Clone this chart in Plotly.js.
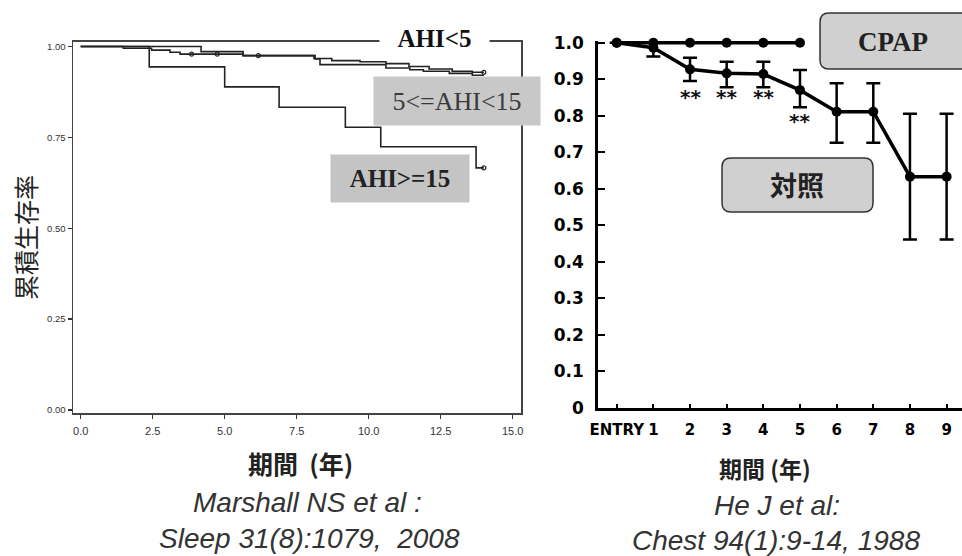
<!DOCTYPE html>
<html><head><meta charset="utf-8">
<script src="https://cdn.plot.ly/plotly-3.0.1.min.js"></script>
<style>html,body{margin:0;padding:0;background:#fff;}#chart{width:962px;height:556px;}</style>
</head><body><div id="chart"></div>
<script>
// ---------- Left chart: Kaplan-Meier (Marshall NS et al.) ----------
const ahiLow_t   = [0, 1.48, 2.46, 3.10, 3.45, 5.64, 8.10, 8.72, 9.70, 10.60, 11.40, 12.10, 12.90, 13.60, 14.00];
const ahiLow_s   = [1.0, 0.995, 0.990, 0.984, 0.979, 0.975, 0.967, 0.961, 0.958, 0.953, 0.945, 0.938, 0.932, 0.929, 0.929];
const ahiMid_t   = [0, 4.18, 5.64, 8.14, 8.31, 10.60, 11.43, 11.90, 12.80, 13.60, 14.00];
const ahiMid_s   = [1.0, 0.986, 0.975, 0.966, 0.950, 0.941, 0.936, 0.932, 0.926, 0.921, 0.921];
const ahiHigh_t  = [0, 2.38, 5.00, 6.89, 9.19, 10.42, 13.73, 14.00];
const ahiHigh_s  = [1.0, 0.944, 0.889, 0.833, 0.778, 0.724, 0.666, 0.666];
const censLow_t  = [3.85, 4.74, 6.17, 14.0];
const censLow_s  = [0.979, 0.979, 0.975, 0.929];
const censHigh_t = [14.0];
const censHigh_s = [0.666];
const leftYTicks = [0, 0.25, 0.5, 0.75, 1.0];
const leftXTicks = [0, 2.5, 5, 7.5, 10, 12.5, 15];

// ---------- Right chart: CPAP vs control (He J et al.) ----------
const years      = [0, 1, 2, 3, 4, 5, 6, 7, 8, 9];
const yearLabels = ['ENTRY', '1', '2', '3', '4', '5', '6', '7', '8', '9'];
const cpapYears  = [0, 1, 2, 3, 4, 5];
const cpapSurv   = [1.0, 1.0, 1.0, 1.0, 1.0, 1.0];
const ctrlSurv   = [1.0, 0.986, 0.927, 0.916, 0.914, 0.870, 0.811, 0.811, 0.633, 0.633];
const ctrlUpper  = [1.0, 1.0, 0.959, 0.948, 0.948, 0.925, 0.889, 0.889, 0.805, 0.805];
const ctrlLower  = [1.0, 0.962, 0.895, 0.878, 0.878, 0.823, 0.726, 0.726, 0.461, 0.461];
const sigYears   = [2, 3, 4, 5];
const sigLabelY  = [0.852, 0.852, 0.852, 0.786];
const rightYTicks = [0, 0.1, 0.2, 0.3, 0.4, 0.5, 0.6, 0.7, 0.8, 0.9, 1.0];
const rightYText  = ['0', '0.1', '0.2', '0.3', '0.4', '0.5', '0.6', '0.7', '0.8', '0.9', '1.0'];

const W = 962, H = 556;
const PX = p => p / W;
const PY = p => 1 - p / H;

function roundRect(x0, y0, x1, y1, r) {
  const f = (x, y) => PX(x).toFixed(5) + ',' + PY(y).toFixed(5);
  return 'M' + f(x0 + r, y0) + ' L' + f(x1 - r, y0) + ' Q' + f(x1, y0) + ' ' + f(x1, y0 + r) +
         ' L' + f(x1, y1 - r) + ' Q' + f(x1, y1) + ' ' + f(x1 - r, y1) +
         ' L' + f(x0 + r, y1) + ' Q' + f(x0, y1) + ' ' + f(x0, y1 - r) +
         ' L' + f(x0, y0 + r) + ' Q' + f(x0, y0) + ' ' + f(x0 + r, y0) + ' Z';
}

const kmLine = {color: '#222', width: 1.6, shape: 'hv'};
const traces = [
  {x: ahiLow_t, y: ahiLow_s, xaxis: 'x', yaxis: 'y', mode: 'lines', line: kmLine, cliponaxis: false},
  {x: ahiMid_t, y: ahiMid_s, xaxis: 'x', yaxis: 'y', mode: 'lines', line: kmLine, cliponaxis: false},
  {x: ahiHigh_t, y: ahiHigh_s, xaxis: 'x', yaxis: 'y', mode: 'lines', line: kmLine, cliponaxis: false},
  {x: censLow_t, y: censLow_s, xaxis: 'x', yaxis: 'y', mode: 'markers',
   marker: {symbol: 'circle-open', size: 4, color: '#222', line: {width: 1.2}}, cliponaxis: false},
  {x: censHigh_t, y: censHigh_s, xaxis: 'x', yaxis: 'y', mode: 'markers',
   marker: {symbol: 'circle-open', size: 4, color: '#222', line: {width: 1.2}}, cliponaxis: false},
  {x: years, y: ctrlSurv, xaxis: 'x2', yaxis: 'y2', mode: 'lines+markers',
   line: {color: '#000', width: 3.5}, marker: {size: 10, color: '#000'},
   error_y: {type: 'data', symmetric: false,
     array: ctrlUpper.map((u, i) => u - ctrlSurv[i]),
     arrayminus: ctrlLower.map((l, i) => ctrlSurv[i] - l),
     color: '#000', thickness: 2.5, width: 7},
   cliponaxis: false},
  {x: cpapYears, y: cpapSurv, xaxis: 'x2', yaxis: 'y2', mode: 'lines+markers',
   line: {color: '#000', width: 3.5}, marker: {size: 10, color: '#000'}, cliponaxis: false}
];

const annotations = [];
function addText(text, x, y, font, extra) {
  annotations.push(Object.assign({xref: 'paper', yref: 'paper', x: PX(x), y: PY(y),
    xanchor: 'center', yanchor: 'middle', showarrow: false, text: text, font: font}, extra || {}));
}
// left chart labels
addText('<b>AHI&lt;5</b>', 434, 38, {family: 'Liberation Serif', size: 25, color: '#111'},
  {bgcolor: '#fff', width: 107, height: 28});
addText('5&lt;=AHI&lt;15', 457, 101, {family: 'Liberation Serif', size: 26, color: '#3a3a3a'},
  {bgcolor: '#c8c8c8', width: 164, height: 46});
addText('<b>AHI&gt;=15</b>', 400, 178, {family: 'Liberation Serif', size: 25, color: '#222'},
  {bgcolor: '#c4c4c4', width: 136, height: 45});
addText('累積生存率', 25, 238, {family: 'Noto Sans CJK JP', size: 25, color: '#222'}, {textangle: -90});
addText('<b>期間  (年)</b>', 300, 463, {family: 'Noto Sans CJK JP', size: 25, color: '#222'});
addText('<i>Marshall NS et al :</i>', 307, 502, {family: 'Liberation Sans', size: 28, color: '#333'});
addText('<i>Sleep 31(8):1079,  2008</i>', 309, 538, {family: 'Liberation Sans', size: 28, color: '#333'});
// right chart labels
addText('<b>CPAP</b>', 893, 42, {family: 'Liberation Serif', size: 27, color: '#222'});
addText('<b>対照</b>', 797, 185, {family: 'Noto Sans CJK JP', size: 27, color: '#222'});
addText('<b>期間 (年)</b>', 765, 468, {family: 'Noto Sans CJK JP', size: 23, color: '#222'});
addText('<i>He J et al:</i>', 777, 505, {family: 'Liberation Sans', size: 28, color: '#333'});
addText('<i>Chest 94(1):9-14, 1988</i>', 776, 540, {family: 'Liberation Sans', size: 28, color: '#333'});
sigYears.forEach((yr, i) => {
  annotations.push({xref: 'x2', yref: 'y2', x: yr, y: sigLabelY[i], showarrow: false,
    text: '<b>**</b>', font: {family: 'DejaVu Sans', size: 20, color: '#111'}});
});

const shapes = [
  {type: 'path', xref: 'paper', yref: 'paper', path: roundRect(820, 13, 985, 69, 9),
   fillcolor: '#d0d0d0', line: {color: '#333', width: 1.5}},
  {type: 'path', xref: 'paper', yref: 'paper', path: roundRect(722, 158, 873, 212, 9),
   fillcolor: '#d0d0d0', line: {color: '#333', width: 1.5}}
];

const layout = {
  width: W, height: H, margin: {l: 0, r: 0, t: 0, b: 0}, showlegend: false,
  paper_bgcolor: '#fff', plot_bgcolor: 'rgba(0,0,0,0)', hovermode: false,
  xaxis: {domain: [PX(73.3), PX(521)], range: [-0.257, 15.29], anchor: 'y',
    tickvals: leftXTicks, ticktext: leftXTicks.map(v => v.toFixed(1)),
    ticks: 'outside', ticklen: 4, tickwidth: 1.5, tickcolor: '#333', ticklabelstandoff: 3,
    showline: true, linecolor: '#444', linewidth: 1.8, mirror: true,
    showgrid: false, zeroline: false,
    tickfont: {family: 'Liberation Sans', size: 11, color: '#333'}},
  yaxis: {domain: [PY(413.3), PY(41.7)], range: [-0.0091, 1.0132], anchor: 'x',
    tickvals: leftYTicks, ticktext: leftYTicks.map(v => v.toFixed(2)),
    ticks: 'outside', ticklen: 4, tickwidth: 1.5, tickcolor: '#333',
    showline: true, linecolor: '#444', linewidth: 1.8, mirror: true,
    showgrid: false, zeroline: false,
    tickfont: {family: 'Liberation Sans', size: 9.5, color: '#333'}},
  xaxis2: {domain: [PX(598.3), 1], range: [-0.502, 9.42], anchor: 'y2',
    tickvals: years, ticktext: yearLabels,
    ticks: 'inside', ticklen: 4, tickwidth: 2, tickcolor: '#000', ticklabelstandoff: 6,
    showline: true, linecolor: '#000', linewidth: 3,
    showgrid: false, zeroline: false,
    tickfont: {family: 'DejaVu Sans', size: 15, color: '#000', weight: 'bold'}},
  yaxis2: {domain: [PY(407.7), PY(40.5)], range: [0, 1.006], anchor: 'x2',
    tickvals: rightYTicks, ticktext: rightYText,
    ticks: 'inside', ticklen: 7, tickwidth: 2, tickcolor: '#000', ticklabelstandoff: 8,
    showline: true, linecolor: '#000', linewidth: 3,
    showgrid: false, zeroline: false,
    tickfont: {family: 'DejaVu Sans', size: 17, color: '#000', weight: 'bold'}},
  annotations: annotations,
  shapes: shapes
};

Plotly.newPlot('chart', traces, layout, {staticPlot: true, displayModeBar: false});
</script>
</body></html>
